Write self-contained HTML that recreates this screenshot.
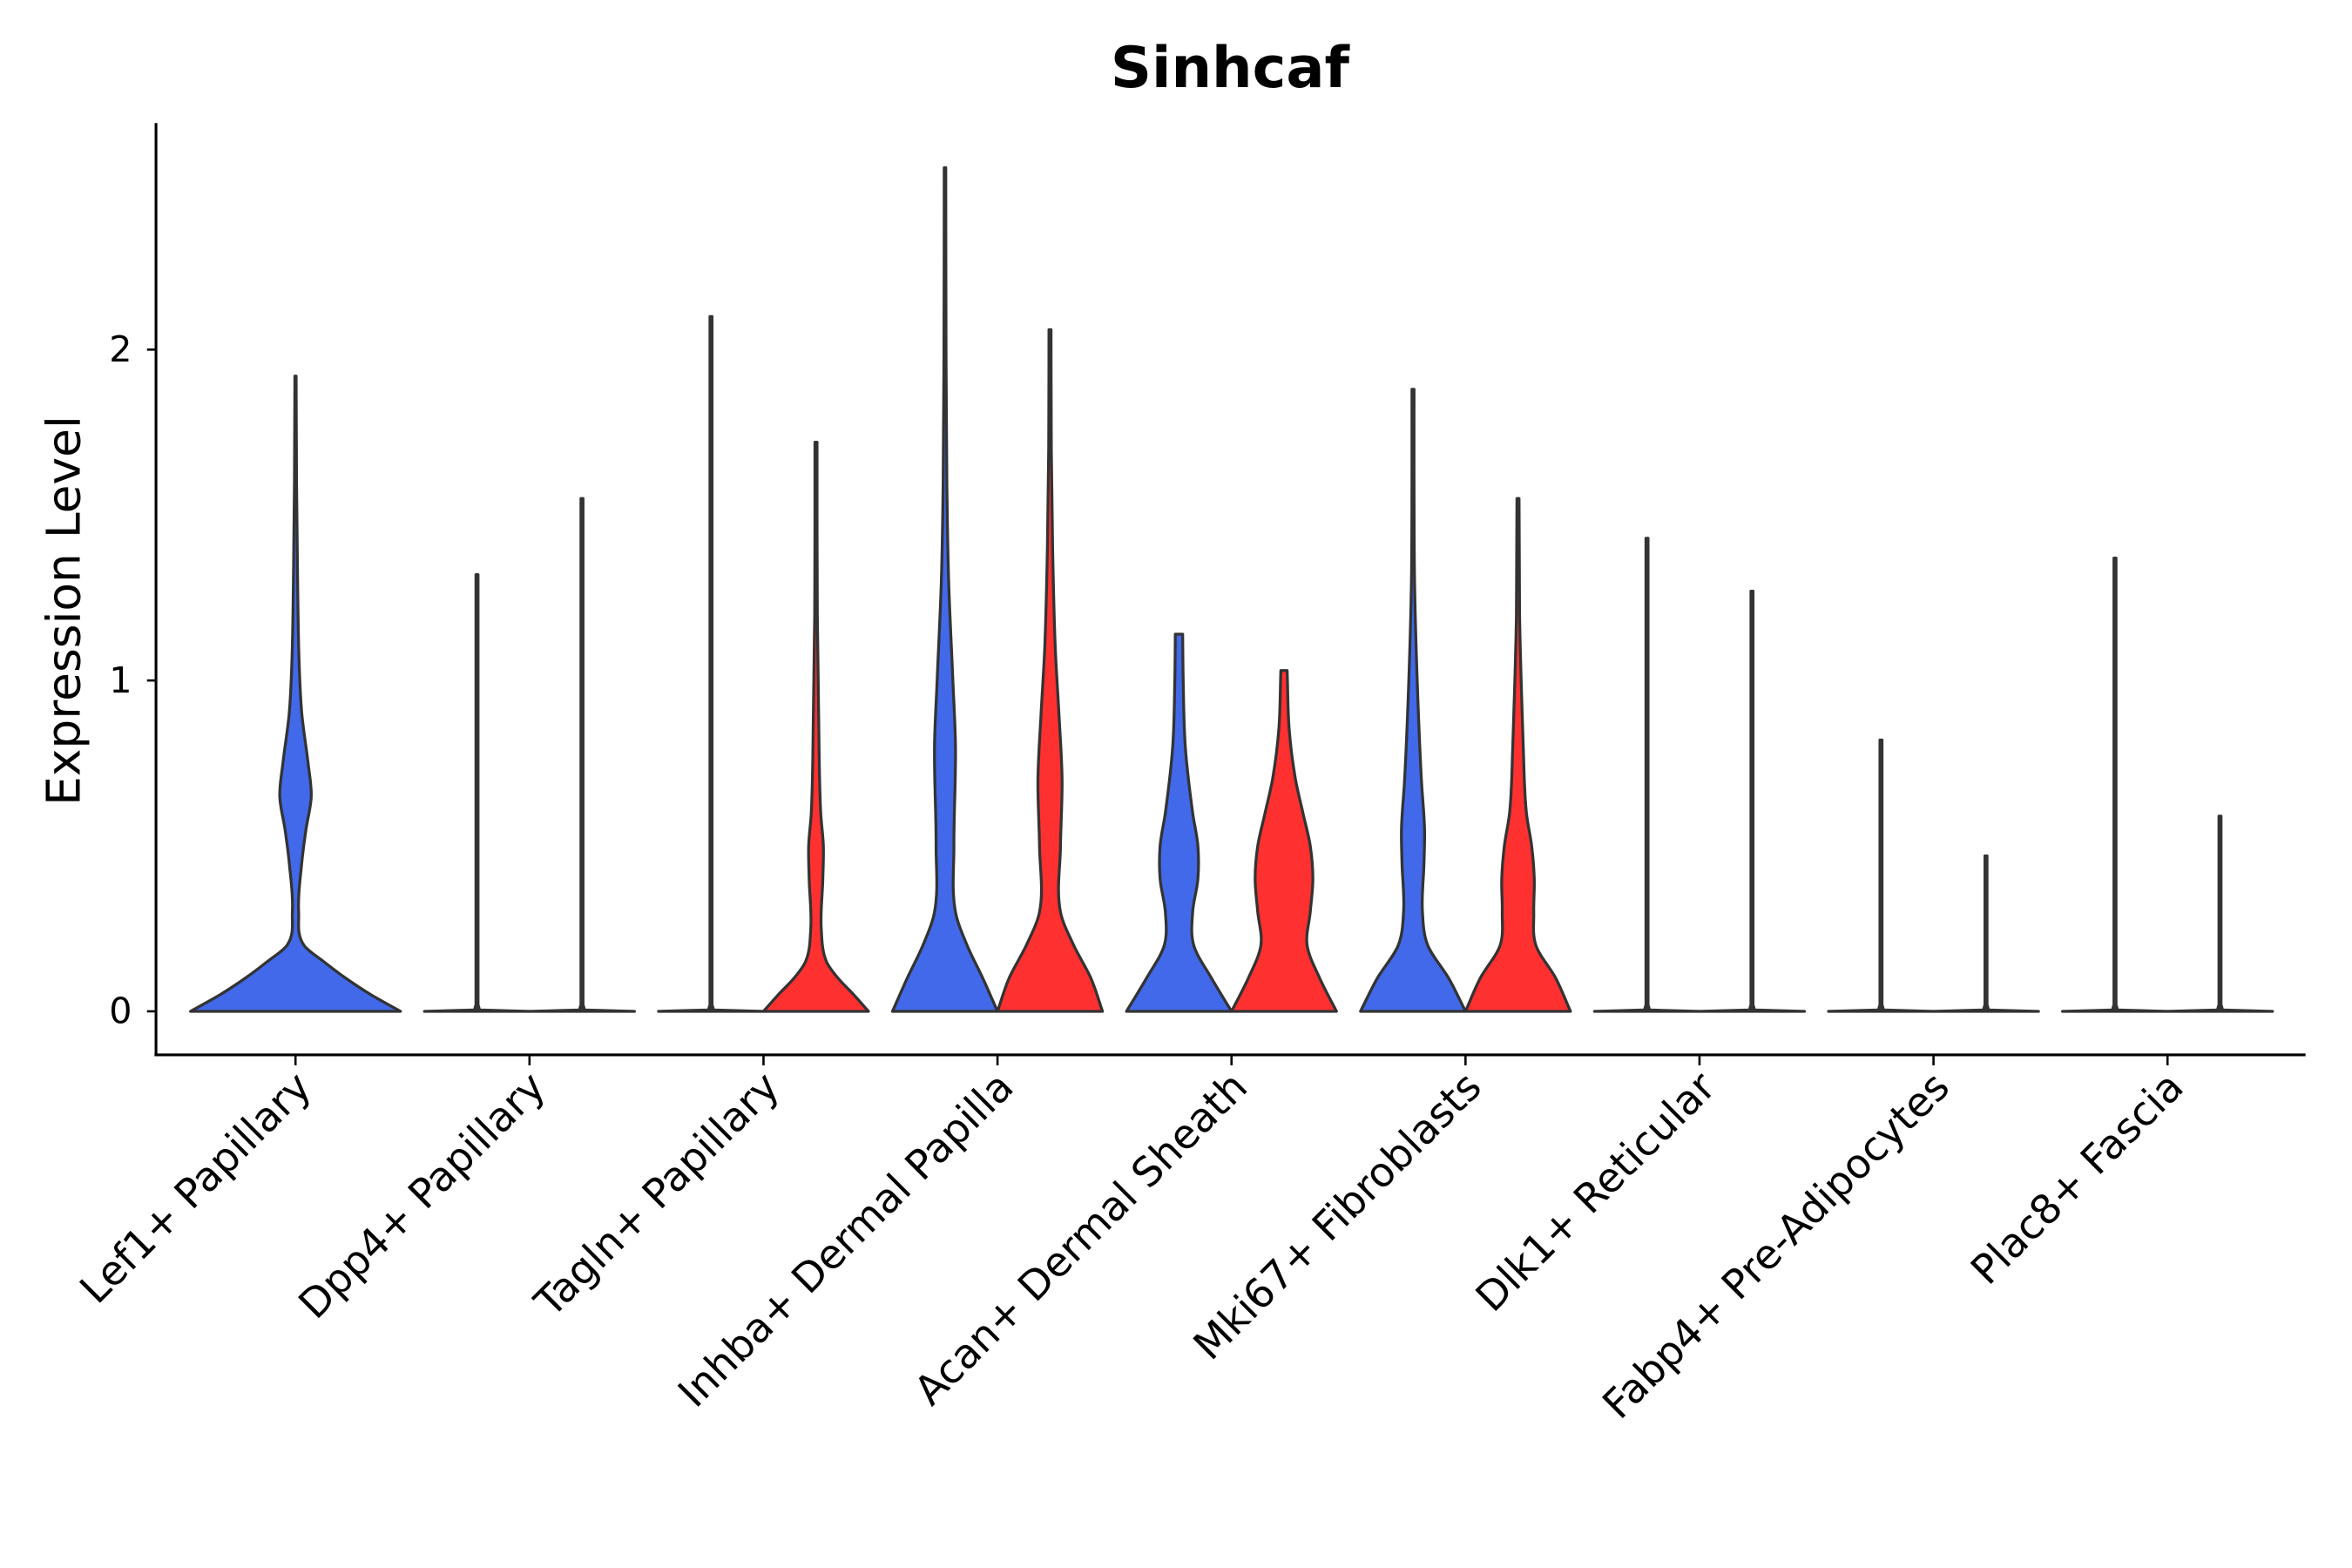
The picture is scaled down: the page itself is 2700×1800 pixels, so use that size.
<!DOCTYPE html>
<html><head><meta charset="utf-8"><style>
html,body{margin:0;padding:0;background:#fff}
svg{display:block}
text{font-family:"DejaVu Sans","Liberation Sans",sans-serif;fill:#000}
</style></head><body>
<svg id="chart" width="2700" height="1800" viewBox="0 0 1568 1045" preserveAspectRatio="none">
<text x="820" y="58" text-anchor="middle" font-size="38" font-weight="bold">Sinhcaf</text>
<text transform="translate(53,407) rotate(-90)" text-anchor="middle" font-size="31">Expression Level</text>
<g id="violins"></g>
<g id="axes"></g>
</svg>
<script>
const categories=["Lef1+ Papillary","Dpp4+ Papillary","Tagln+ Papillary","Inhba+ Dermal Papilla","Acan+ Dermal Sheath","Mki67+ Fibroblasts","Dlk1+ Reticular","Fabp4+ Pre-Adipocytes","Plac8+ Fascia"];
const yTicks=[0,1,2];
const violinCats=[0,1,1,2,2,3,3,4,4,5,5,6,6,7,7,8,8];
const violinGroups=[0,-1,1,-1,1,-1,1,-1,1,-1,1,-1,1,-1,1,-1,1];
const violinFill=["#4169e9","none","none","none","#ff3030","#4169e9","#ff3030","#4169e9","#ff3030","#4169e9","#ff3030","none","none","none","none","none","none"];
const violinProfiles=[
[[0,1],[0.05,0.72],[0.1,0.48],[0.15,0.27],[0.2,0.08],[0.3,0.03],[0.45,0.06],[0.55,0.1],[0.65,0.15],[0.75,0.12],[0.9,0.06],[1.05,0.035],[1.3,0.02],[1.6,0.01],[1.92,0.006]],
[[0,1],[0.004,0.05],[0.02,0.02],[1.32,0.02]],
[[0,1],[0.004,0.05],[0.02,0.02],[1.55,0.02]],
[[0,1],[0.004,0.05],[0.02,0.02],[2.1,0.02]],
[[0,1],[0.05,0.72],[0.1,0.42],[0.15,0.2],[0.25,0.1],[0.4,0.13],[0.5,0.14],[0.6,0.09],[0.9,0.05],[1.2,0.025],[1.5,0.02],[1.72,0.02]],
[[0,1],[0.1,0.72],[0.2,0.42],[0.3,0.2],[0.5,0.17],[0.8,0.2],[1.0,0.15],[1.3,0.07],[1.6,0.035],[2.0,0.02],[2.55,0.015]],
[[0,1],[0.1,0.78],[0.2,0.45],[0.3,0.2],[0.5,0.2],[0.7,0.23],[0.9,0.17],[1.1,0.1],[1.4,0.05],[1.7,0.025],[2.06,0.02]],
[[0,1],[0.1,0.62],[0.2,0.28],[0.3,0.26],[0.4,0.36],[0.5,0.36],[0.6,0.26],[0.8,0.12],[1.0,0.08],[1.14,0.07]],
[[0,1],[0.1,0.68],[0.2,0.44],[0.3,0.5],[0.4,0.55],[0.5,0.5],[0.6,0.36],[0.7,0.22],[0.85,0.1],[1.03,0.06]],
[[0,1],[0.1,0.68],[0.2,0.28],[0.3,0.18],[0.45,0.21],[0.55,0.22],[0.7,0.16],[1.0,0.08],[1.3,0.03],[1.6,0.02],[1.88,0.02]],
[[0,1],[0.1,0.72],[0.2,0.34],[0.3,0.3],[0.4,0.31],[0.5,0.26],[0.6,0.16],[0.8,0.1],[1.0,0.06],[1.2,0.03],[1.55,0.02]],
[[0,1],[0.004,0.05],[0.02,0.02],[1.43,0.02]],
[[0,1],[0.004,0.05],[0.02,0.02],[1.27,0.02]],
[[0,1],[0.004,0.05],[0.02,0.02],[0.82,0.02]],
[[0,1],[0.004,0.05],[0.02,0.02],[0.47,0.02]],
[[0,1],[0.004,0.05],[0.02,0.02],[1.37,0.02]],
[[0,1],[0.004,0.05],[0.02,0.02],[0.59,0.02]]
];
const NS="http://www.w3.org/2000/svg";
const yScale=v=>674-v*220.5;
const xScale=i=>197+i*156;
const vg=document.getElementById('violins');
function smooth(pts){
  let d="M"+pts[0][0].toFixed(2)+","+pts[0][1].toFixed(2);
  for(let i=0;i<pts.length-1;i++){
    const p1=pts[i],p2=pts[i+1];
    const slope=(a,b)=>(b[0]-a[0])/((b[1]-a[1])||1e-6);
    const s0=i>0?(slope(pts[i-1],p1)+slope(p1,p2))/2:slope(p1,p2);
    const s1=i<pts.length-2?(slope(p1,p2)+slope(p2,pts[i+2]))/2:slope(p1,p2);
    const dy=(p2[1]-p1[1])/3;
    const c1=[p1[0]+s0*dy,p1[1]+dy];
    const c2=[p2[0]-s1*dy,p2[1]-dy];
    d+=" C"+c1[0].toFixed(2)+","+c1[1].toFixed(2)+" "+c2[0].toFixed(2)+","+c2[1].toFixed(2)+" "+p2[0].toFixed(2)+","+p2[1].toFixed(2);
  }
  return d;
}
violinProfiles.forEach((prof,k)=>{
  const g=violinGroups[k];
  const cx=xScale(violinCats[k])+g*35;
  const hw=g===0?70:35;
  const left=prof.map(p=>[cx-p[1]*hw,yScale(p[0])]);
  const right=prof.slice().reverse().map(p=>[cx+p[1]*hw,yScale(p[0])]);
  const flat=violinFill[k]==="none";
  let d;
  if(flat){
    d="M"+left.map(p=>p[0].toFixed(2)+","+p[1].toFixed(2)).join(" L")+" L"+right.map(p=>p[0].toFixed(2)+","+p[1].toFixed(2)).join(" L")+" Z";
  } else {
    d=smooth(left)+" "+smooth(right).replace(/^M/,"L")+" Z";
  }
  const path=document.createElementNS(NS,'path');
  path.setAttribute('d',d);
  const f=violinFill[k];
  path.setAttribute('fill',flat?"#333":f);
  path.setAttribute('stroke','#333');
  path.setAttribute('stroke-width','1.9');
  path.setAttribute('stroke-linejoin','round');
  
  
  vg.appendChild(path);
});
const ax=document.getElementById('axes');
function el(tag,attrs,name,txt){const e=document.createElementNS(NS,tag);for(const k in attrs)e.setAttribute(k,attrs[k]);
 
 
 if(txt!==undefined)e.textContent=txt;ax.appendChild(e);return e;}
el('line',{x1:104,y1:82,x2:104,y2:703,stroke:'#000','stroke-width':1.8},'y-axis-line');
el('line',{x1:103,y1:703,x2:1537,y2:703,stroke:'#000','stroke-width':1.8},'x-axis-line');
yTicks.forEach(t=>{
  el('line',{x1:98,y1:yScale(t),x2:104,y2:yScale(t),stroke:'#000','stroke-width':1.5},'y-tick');
  el('text',{x:88,y:yScale(t)+8,'text-anchor':'end','font-size':24,fill:'#1a1a1a'},'y-tick-label',String(t));
});
categories.forEach((c,i)=>{
  const x=xScale(i);
  el('line',{x1:x,y1:703,x2:x,y2:710,stroke:'#000','stroke-width':1.5},'x-tick');
  el('text',{transform:'translate('+(x+12)+',726) rotate(-45)','text-anchor':'end','font-size':27,fill:'#1a1a1a'},'x-tick-label',c);
});
</script>
</body></html>
